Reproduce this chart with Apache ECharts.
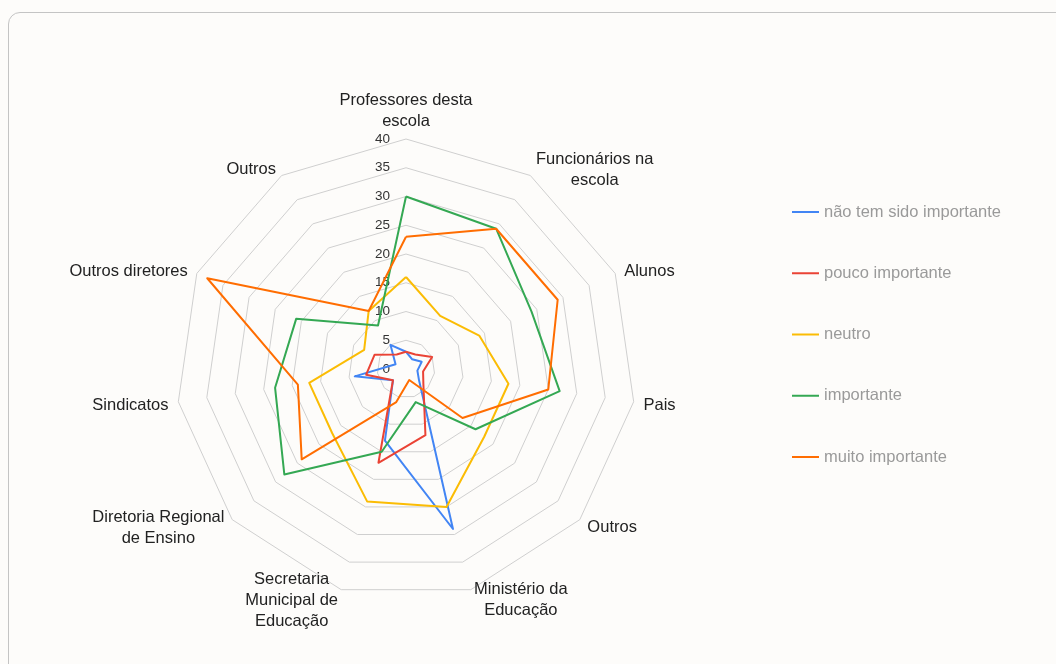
<!DOCTYPE html>
<html>
<head>
<meta charset="utf-8">
<script src="https://cdn.jsdelivr.net/npm/echarts@6/dist/echarts.min.js"></script>
<style>
  html, body { margin: 0; padding: 0; width: 1056px; height: 664px; overflow: hidden; background: #fdfcfa; }
  #frame { position: absolute; left: 8px; top: 12px; width: 1200px; height: 800px; border: 1px solid #c4c4c4; border-radius: 12px; box-sizing: border-box; }
  #chart { position: absolute; left: 0; top: 0; width: 1056px; height: 664px; }
</style>
</head>
<body>
<div id="frame"></div>
<div id="chart"></div>
<script>
// categories listed clockwise starting at the top
const categories = ['Professores desta\nescola', 'Funcionários na\nescola', 'Alunos', 'Pais', 'Outros',
  'Ministério da\nEducação', 'Secretaria\nMunicipal de\nEducação', 'Diretoria Regional\nde Ensino',
  'Sindicatos', 'Outros diretores', 'Outros'];
const seriesNames = ['não tem sido importante', 'pouco importante', 'neutro', 'importante', 'muito importante'];
const naoTemSidoImportante = [3, 2, 3, 2, 3, 29, 13, 3, 9, 2, 5];
const poucoImportante = [3, 3, 5, 3, 4, 12, 17, 3, 7, 6, 3];
const neutro = [16, 11, 14, 18, 18, 25, 24, 17, 17, 8, 12];
const importante = [30, 29, 24, 27, 16, 6, 15, 28, 23, 21, 9];
const muitoImportante = [23, 29, 29, 25, 13, 2, 6, 24, 19, 38, 12];
const axisMax = 40;
const tickStep = 5;

const colors = ['#4285F4', '#EA4335', '#FBBC04', '#34A853', '#FF6D01'];
const allValues = [naoTemSidoImportante, poucoImportante, neutro, importante, muitoImportante];
const FONT = '"Liberation Sans", Arial, sans-serif';
const nameSize = 16.5;

// ECharts radar runs counter-clockwise: feed indicators in order 0, n-1, ..., 1
const order = [0];
for (let i = categories.length - 1; i >= 1; i--) order.push(i);

const ctx = document.createElement('canvas').getContext('2d');
ctx.font = nameSize + 'px ' + FONT;
const rich = {};
categories.forEach(function (c, i) {
  const w = Math.max.apply(null, c.split('\n').map(function (l) { return ctx.measureText(l).width; }));
  rich['l' + i] = { width: Math.ceil(w) + 1, align: 'center', fontSize: nameSize, fontFamily: FONT, color: '#222', lineHeight: 21 };
});

const indicator = order.map(function (i, pos) {
  const o = { name: categories[i], min: 0, max: axisMax };
  if (pos === 0) { o.axisLabel = { show: true }; o.nameGap = 7; }
  return o;
});

const chart = echarts.init(document.getElementById('chart'), null, { renderer: 'canvas' });
chart.setOption({
  animation: false,
  backgroundColor: 'transparent',
  color: colors,
  legend: {
    orient: 'vertical',
    left: 792,
    top: 202,
    padding: 0,
    itemWidth: 27,
    itemHeight: 2,
    itemGap: 41.25,
    icon: 'rect',
    data: seriesNames,
    textStyle: { color: '#9a9a9a', fontSize: nameSize, fontFamily: FONT, lineHeight: 20 }
  },
  radar: {
    center: [406, 369],
    radius: 230,
    startAngle: 90,
    shape: 'polygon',
    splitNumber: axisMax / tickStep,
    nameGap: 9,
    indicator: indicator,
    axisName: {
      color: '#222',
      fontSize: nameSize,
      fontFamily: FONT,
      lineHeight: 21,
      padding: [4, 0, 0, 0],
      formatter: function (name) {
        const i = categories.indexOf(name);
        return name.split('\n').map(function (l) { return '{l' + i + '|' + l + '}'; }).join('\n');
      },
      rich: rich
    },
    axisLine: { show: false },
    axisTick: { show: false },
    axisLabel: { show: false, color: '#333', fontSize: 13.5, fontFamily: FONT, margin: 16 },
    splitLine: { lineStyle: { color: '#cfcfcf', width: 1 } },
    splitArea: { show: false }
  },
  series: [{
    type: 'radar',
    symbol: 'none',
    data: seriesNames.map(function (n, k) {
      return {
        name: n,
        value: order.map(function (i) { return allValues[k][i]; }),
        lineStyle: { color: colors[k], width: 2 },
        itemStyle: { color: colors[k] }
      };
    })
  }]
});
</script>
</body>
</html>
